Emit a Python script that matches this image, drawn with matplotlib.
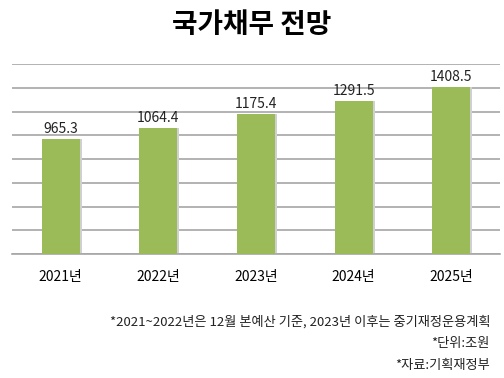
import matplotlib
matplotlib.use('Agg')
import matplotlib.pyplot as plt
import numpy as np

plt.rcParams['font.family'] = ['Noto Sans CJK KR', 'DejaVu Sans']

years = ['2021년', '2022년', '2023년', '2024년', '2025년']
debt = [965.3, 1064.4, 1175.4, 1291.5, 1408.5]
notes = ['*2021~2022년은 12월 본예산 기준, 2023년 이후는 중기재정운용계획',
         '*단위:조원',
         '*자료:기획재정부']

fig = plt.figure(figsize=(5.04, 3.78), dpi=100)
ax = fig.add_axes([12 / 504, 1 - 254 / 378, 488 / 504, 190 / 378])

x = np.arange(len(years))
# faint shadow behind bars
ax.bar(x + 0.02, debt, width=0.39, color='#d0d0d0', zorder=2)
bars = ax.bar(x, debt, width=0.39, color='#9bbb59', zorder=3)
for xi, v in zip(x, debt):
    ax.text(xi, v + 25, f'{v}', ha='center', va='bottom', fontsize=10,
            color='#222222', zorder=4)

ax.set_xlim(-0.5, len(years) - 0.5)
ax.set_ylim(0, 1600)
ax.set_yticks(np.arange(0, 1601, 200))
ax.yaxis.grid(True, color='#a6a6a6', linewidth=1.2, zorder=0)
ax.set_axisbelow(True)
ax.tick_params(axis='y', left=False, labelleft=False)
ax.tick_params(axis='x', bottom=False, labelsize=10, pad=8)
ax.set_xticks(x)
ax.set_xticklabels(years)
for s in ['top', 'left', 'right']:
    ax.spines[s].set_visible(False)
ax.spines['bottom'].set_color('#a6a6a6')
ax.spines['bottom'].set_linewidth(1.2)

fig.text(0.5, 1 - 25 / 378, '국가채무 전망', ha='center', va='center',
         fontsize=20, fontweight='bold')
for i, n in enumerate(notes):
    fig.text(490 / 504, 1 - (322 + 22 * i) / 378, n, ha='right', va='center',
             fontsize=9.5, color='#222222')

fig.savefig('out.png', dpi=100)
